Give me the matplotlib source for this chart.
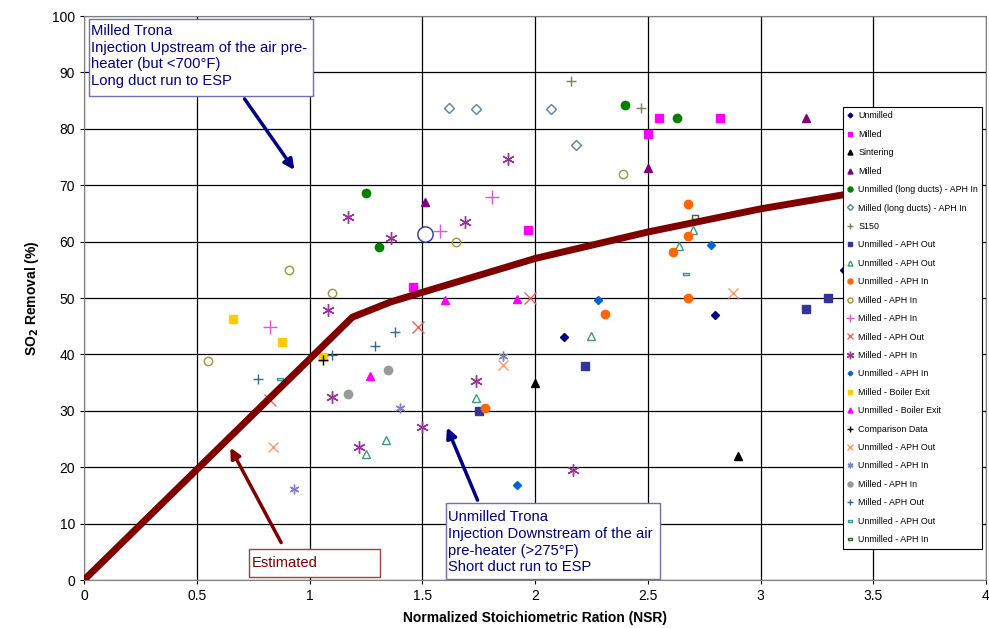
#!/usr/bin/env python3
"""SO2 removal vs NSR for trona injection, with estimated curve."""

import matplotlib
matplotlib.use('Agg')
from matplotlib import pyplot as plt
from matplotlib.patches import Rectangle

# Estimated curve
EST_X = [0, 1.19, 1.36, 1.5, 2.0, 2.5, 3.0, 3.5]
EST_Y = [0, 46.6, 49.3, 51.0, 57.0, 61.7, 65.8, 69.2]

# Measured series, (NSR, SO2 removal)
UNMILLED = ([2.13, 2.80, 3.37], [43, 47, 55])
MILLED_SQ = ([1.46, 1.97, 2.50, 2.55, 2.82], [52, 62, 79, 82, 82])
SINTERING = ([2.0, 2.9], [35, 22])
MILLED_TRI = ([1.51, 2.50, 3.20], [67, 73, 82])
UNMILLED_LD = ([1.25, 1.31, 2.40, 2.63], [68.7, 59.1, 84.3, 82])
MILLED_LD = ([1.62, 1.74, 2.07, 2.18], [83.7, 83.5, 83.5, 77.1])
S150 = ([2.16, 2.47], [88.5, 83.7])
UNM_OUT_SQ = ([1.75, 2.22, 3.20, 3.30], [30, 38, 48, 50])
UNM_OUT_TRI = ([1.25, 1.34, 1.74, 2.25, 2.64, 2.70], [22.3, 24.9, 32.3, 43.2, 59.3, 62.1])
UNM_IN_CIRC = ([1.78, 2.31, 2.61, 2.68, 2.68, 2.68], [30.5, 47.2, 58.2, 61.0, 66.6, 50])
MIL_IN_OCIRC = ([0.55, 0.91, 1.10, 1.65, 2.39], [38.9, 55, 50.9, 60, 72])
MIL_IN_PLUS = ([0.825, 1.58, 1.81], [44.9, 61.9, 67.9])
MIL_OUT_X = ([0.825, 1.48, 1.98], [31.9, 44.9, 50])
MIL_IN_AST = ([1.08, 1.10, 1.17, 1.22, 1.36, 1.50, 1.69, 1.74, 1.88, 2.17],
              [47.9, 32.5, 64.4, 23.6, 60.7, 27.1, 63.5, 35.3, 74.6, 19.5])
UNM_IN_DIA = ([1.92, 2.28, 2.78], [16.9, 49.6, 59.4])
MIL_BOILER = ([0.66, 0.88, 1.06], [46.3, 42.2, 39.5])
UNM_BOILER = ([1.27, 1.60, 1.92], [36.2, 49.6, 49.8])
COMPARISON = ([1.06], [39.0])
UNM_OUT_X = ([0.84, 1.86, 2.88], [23.6, 38.1, 50.9])
UNM_IN_AST = ([0.93, 1.40, 1.86], [16.1, 30.5, 39.7])
MIL_IN_GRAY = ([1.17, 1.35], [33.0, 37.2])
MIL_OUT_PLUS = ([0.77, 1.10, 1.29, 1.38], [35.6, 39.9, 41.5, 44.0])
UNM_OUT_DASH = ([0.87, 2.67], [35.6, 54.2])
UNM_IN_RECT = ([2.71], [64.4])
OPEN_BIG = ([1.51], [61.3])

LABELS = ['Unmilled', 'Milled', 'Sintering', 'Milled',
          'Unmilled (long ducts) - APH In', 'Milled (long ducts) - APH In',
          'S150', 'Unmilled - APH Out', 'Unmilled - APH Out',
          'Unmilled - APH In', 'Milled - APH In', 'Milled - APH In',
          'Milled - APH Out', 'Milled - APH In', 'Unmilled - APH In',
          'Milled - Boiler Exit', 'Unmilled - Boiler Exit', 'Comparison Data',
          'Unmilled - APH Out', 'Unmilled - APH In', 'Milled - APH In',
          'Milled - APH Out', 'Unmilled - APH Out', 'Unmilled - APH In']

RECT = [(-1, -0.45), (1, -0.45), (1, 0.45), (-1, 0.45), (-1, -0.45)]
AST = (6, 2, 0)

STYLES = [
    dict(marker='D', ms=4, color='#000080'),
    dict(marker='s', ms=6, color='#ff00ff'),
    dict(marker='^', ms=6, color='black'),
    dict(marker='^', ms=6, color='#800080'),
    dict(marker='o', ms=6, color='#008000'),
    dict(marker='D', ms=5, color='#5f7fa8', mfc='none', mew=1),
    dict(marker='+', ms=7, color='#7f7f60', mew=1),
    dict(marker='s', ms=6, color='#333399'),
    dict(marker='^', ms=6, color='#3c9a7a', mfc='none', mew=1),
    dict(marker='o', ms=6, color='#ff6600'),
    dict(marker='o', ms=6, color='#999933', mfc='none', mew=1),
    dict(marker='+', ms=10, color='#e055d0', mew=1),
    dict(marker='x', ms=8, color='#ff5a5a', mew=1),
    dict(marker=AST, ms=9, color='#993399', mew=1),
    dict(marker='D', ms=4, color='#0066cc'),
    dict(marker='s', ms=6, color='#ffcc00'),
    dict(marker='^', ms=6, color='#ff00ff'),
    dict(marker='+', ms=7, color='black', mew=1),
    dict(marker='x', ms=7, color='#ff9966', mew=1),
    dict(marker=AST, ms=7, color='#8080c0', mew=1),
    dict(marker='o', ms=6, color='#999999'),
    dict(marker='+', ms=7, color='#336699', mew=1),
    dict(marker=RECT, ms=4, color='#339999', mfc='none', mew=1),
    dict(marker=RECT, ms=5, color='#336633', mfc='none', mew=1),
]

SERIES = [UNMILLED, MILLED_SQ, SINTERING, MILLED_TRI, UNMILLED_LD, MILLED_LD,
          S150, UNM_OUT_SQ, UNM_OUT_TRI, UNM_IN_CIRC, MIL_IN_OCIRC,
          MIL_IN_PLUS, MIL_OUT_X, MIL_IN_AST, UNM_IN_DIA, MIL_BOILER,
          UNM_BOILER, COMPARISON, UNM_OUT_X, UNM_IN_AST, MIL_IN_GRAY,
          MIL_OUT_PLUS, UNM_OUT_DASH, UNM_IN_RECT]


def main():
    plt.rcParams['font.family'] = ['Liberation Sans', 'DejaVu Sans']
    fig = plt.figure(figsize=(9.89, 6.28), dpi=100)
    ax = fig.add_axes([84 / 989, 48 / 628, 902 / 989, 564 / 628])

    handles = []
    for (xs, ys), label, style in zip(SERIES, LABELS, STYLES):
        h, = ax.plot(xs, ys, linestyle='none', label=label, zorder=3, **style)
        handles.append(h)
    ax.plot(*OPEN_BIG, linestyle='none', marker='o', ms=11, mfc='white',
            mec='#333399', mew=1, zorder=3)

    # estimated curve drawn over the points
    ax.plot(EST_X, EST_Y, color='#7f0000', lw=5, zorder=4,
            solid_capstyle='round')

    ax.set_xlim(0, 4)
    ax.set_ylim(0, 100)
    ax.set_xticks([0, 0.5, 1, 1.5, 2, 2.5, 3, 3.5, 4])
    ax.set_xticklabels(['0', '0.5', '1', '1.5', '2', '2.5', '3', '3.5', '4'])
    ax.set_yticks(range(0, 101, 10))
    ax.grid(True, color='black', lw=0.9)
    ax.set_axisbelow(True)
    ax.tick_params(labelsize=10, length=3)
    for sp in ax.spines.values():
        sp.set_color('#808080')
    ax.set_xlabel('Normalized Stoichiometric Ration (NSR)', fontsize=10,
                  fontweight='bold', labelpad=6)
    ax.set_ylabel(r'SO$_\mathbf{2}$ Removal (%)', fontsize=10,
                  fontweight='bold', labelpad=8)

    navy = '#000080'
    # upper-left note
    ax.add_patch(Rectangle((0.022, 85.8), 0.993, 13.7, fc='white',
                           ec='#7070b0', lw=1, zorder=5))
    ax.text(0.03, 98.6, 'Milled Trona\nInjection Upstream of the air pre-\n'
            'heater (but <700\u00b0F)\nLong duct run to ESP', color=navy,
            fontsize=10.6, va='top', ha='left', linespacing=1.25, zorder=6)
    ax.annotate('', xy=(0.94, 72.3), xytext=(0.705, 85.7),
                arrowprops=dict(arrowstyle='-|>', color=navy, lw=2.5,
                                mutation_scale=15), zorder=5)

    # lower note
    ax.add_patch(Rectangle((1.605, 0.1), 0.95, 13.55, fc='white',
                           ec='#7070b0', lw=1, zorder=5))
    ax.text(1.613, 12.4, 'Unmilled Trona\nInjection Downstream of the air\n'
            'pre-heater (>275\u00b0F)\nShort duct run to ESP', color=navy,
            fontsize=10.6, va='top', ha='left', linespacing=1.25, zorder=6)
    ax.annotate('', xy=(1.605, 27.5), xytext=(1.75, 13.7),
                arrowprops=dict(arrowstyle='-|>', color=navy, lw=2.5,
                                mutation_scale=15), zorder=5)

    # estimated label
    red = '#800000'
    ax.add_patch(Rectangle((0.732, 0.55), 0.58, 4.95, fc='white',
                           ec='#a04040', lw=1, zorder=5))
    ax.text(0.745, 3.1, 'Estimated', color=red, fontsize=10.6, va='center',
            ha='left', zorder=6)
    ax.annotate('', xy=(0.643, 23.9), xytext=(0.88, 6.2),
                arrowprops=dict(arrowstyle='-|>', color=red, lw=2.5,
                                mutation_scale=15), zorder=5)

    leg = fig.legend(handles=handles, loc='upper left',
                     bbox_to_anchor=(843 / 989, 1 - 107 / 628),
                     fontsize=6.4, frameon=True, fancybox=False,
                     edgecolor='black', framealpha=1, handlelength=0.6,
                     handletextpad=0.6, labelspacing=1.06, borderpad=0.5,
                     borderaxespad=0, markerscale=0.6)
    leg.get_frame().set_linewidth(0.8)

    fig.savefig('out.png', dpi=100)


if __name__ == '__main__':
    main()
